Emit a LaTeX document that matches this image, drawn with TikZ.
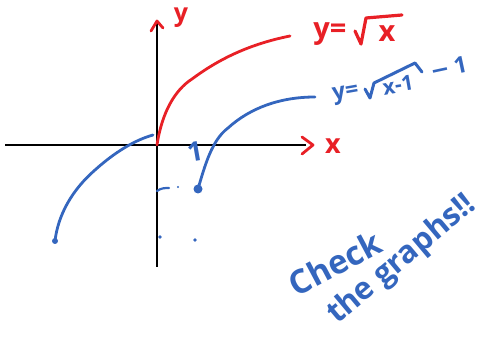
\documentclass[tikz,border=0pt]{standalone}
\usepackage{fontspec}
\setmainfont{Open Sans}
\newfontfamily\symfont{DejaVu Sans}
\definecolor{inkblue}{RGB}{52,102,190}
\definecolor{inkred}{RGB}{232,32,38}
\begin{document}
\begin{tikzpicture}[x=1pt,y=-1pt,
  axis/.style={line width=2.4pt,black},
  redink/.style={line width=2.8pt,inkred,line cap=round,line join=round},
  blueink/.style={line width=2.8pt,inkblue,line cap=round,line join=round},
  lab/.style={inner sep=0pt,font=\bfseries}]
\useasboundingbox (0,0) rectangle (488,339);
% axes
\coordinate (xl) at (5,145); \coordinate (xr) at (306,145);
\coordinate (yb) at (157,267); \coordinate (yt) at (157,23);
\draw[axis] (xl) -- (xr);
\draw[axis] (yb) -- (yt);
\draw[redink] (302,137) -- (313,145) -- (302,154);
\draw[redink] (151,31) -- (157,21) -- (163,28);
\node[lab,inkred,font=\fontsize{27}{27}\selectfont\bfseries] (xlab) at (333,146) {x};
\node[lab,inkred,font=\fontsize{25}{25}\selectfont\bfseries] (ylab) at (181,18) {y};
% red curve
\draw[redink] (157,145) .. controls (162,112) and (175,90) .. (192,79)
  .. controls (215,62) and (245,45) .. (290,36);
% red label y = sqrt x
\node[lab,inkred,font=\fontsize{29}{29}\selectfont\bfseries] (ry) at (330,34) {y=};
\node[lab,inkred,font=\fontsize{29}{29}\selectfont\bfseries] (rx) at (387,34) {x};
\draw[redink,line width=3.2pt] (355,31) -- (361,44) -- (366,18) -- (402,15);
% blue shifted curve
\draw[blueink] (198,189) .. controls (205,165) and (212,140) .. (228,128)
  .. controls (250,108) and (280,97) .. (315,97);
\fill[inkblue] (198,189) circle (4.5pt);
% blue label y = sqrt(x-1) - 1
\node[lab,inkblue,font=\fontsize{23}{23}\selectfont\bfseries,rotate=10] (by) at (346,95) {y=};
\node[lab,inkblue,font=\fontsize{21}{21}\selectfont\bfseries,rotate=10] (bx) at (398,85) {x-1};
\node[lab,inkblue,font=\fontsize{23}{23}\selectfont\bfseries,rotate=12] (bm) at (449,68) {{\symfont\bfseries −}\,1};
\draw[blueink,line width=3pt] (365,89) -- (370,98) -- (374,83) -- (415,63) -- (422,72);
% left blue curve
\draw[blueink] (55,241) .. controls (58,215) and (72,190) .. (95,170)
  .. controls (115,152) and (135,140) .. (153,135);
\fill[inkblue] (55,241) circle (3pt);
% dashed guide and dots
\draw[blueink,line width=2.2pt] (157,191) .. controls (161,188) and (165,188) .. (169,188);
\fill[inkblue] (178,187) circle (1.2pt);
\fill[inkblue] (160,237) circle (1.8pt);
\fill[inkblue] (195,240) circle (1.8pt);
% tick label 1
\node[lab,inkblue,font=\fontsize{27}{27}\selectfont\bfseries,rotate=10] (one) at (195,152) {1};
% note
\node[lab,inkblue,font=\fontsize{33}{33}\selectfont\bfseries,rotate=28] (n1) at (335,263) {Check};
\node[lab,inkblue,font=\fontsize{31}{31}\selectfont\bfseries,rotate=40] (n2) at (402,260) {the graphs!!};
\end{tikzpicture}
\end{document}
